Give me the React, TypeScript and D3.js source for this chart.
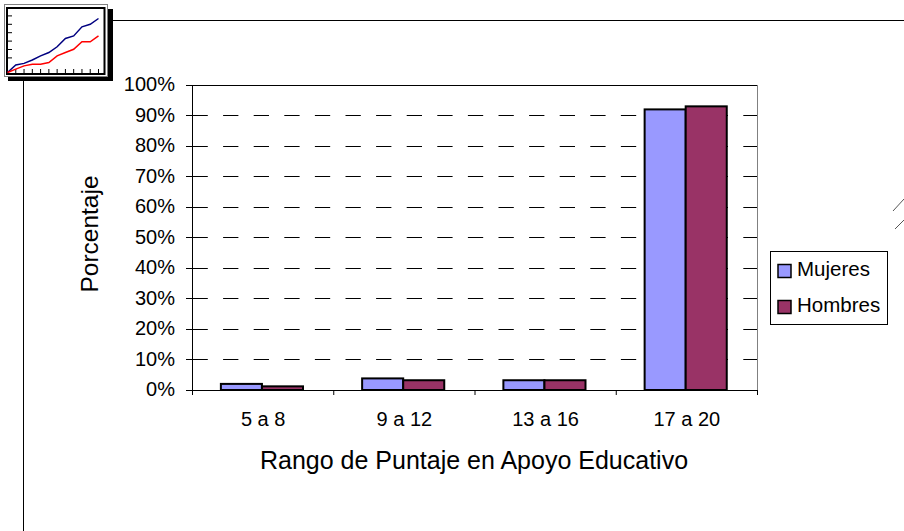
import React from 'react';
import * as d3 from 'd3';

const categories = ['5 a 8', '9 a 12', '13 a 16', '17 a 20'];
const mujeres = [2, 3.8, 3.2, 92];
const hombres = [1.2, 3.2, 3.2, 93];
const yTicks = [0, 10, 20, 30, 40, 50, 60, 70, 80, 90, 100];
const seriesNames = ['Mujeres', 'Hombres'];
const seriesColors = ['#9999ff', '#993366'];
const logoBlue = [0, 9, 11, 15, 20, 24, 31, 41, 44, 55, 58, 65];
const logoRed = [0, 4, 8, 10, 10, 12, 20, 24, 28, 37, 37, 44];

const font = '"Liberation Sans", Arial, sans-serif';

export default function App() {
  const x0 = d3.scaleBand<string>().domain(categories).range([192.5, 757.5]);
  const inner = d3.scaleBand<string>().domain(seriesNames).range([0, x0.bandwidth()]).paddingOuter(0.72).paddingInner(0).align(0.48);
  const y = d3.scaleLinear().domain([0, 100]).range([390, 85]);
  const lx = d3.scaleLinear().domain([0, 11]).range([7.5, 98.5]);
  const ly = d3.scaleLinear().domain([0, 65]).range([72.5, 18.5]);
  const line = d3.line<number>().x((_, i) => lx(i)).y(d => ly(d)).curve(d3.curveLinear);
  const series = [mujeres, hombres];
  const snap = (t: number) => Math.floor(y(t)) + 0.5;
  return (
    <svg width={904} height={531} viewBox="0 0 904 531" style={{ position: 'absolute', left: 0, top: 0, background: '#fff' }} fontFamily={font}>
      {/* page rules */}
      <line x1={110} x2={904} y1={20.5} y2={20.5} stroke="#000" strokeWidth={1} />
      <line x1={23.5} x2={23.5} y1={78} y2={531} stroke="#000" strokeWidth={1} />
      <line x1={893} y1={211} x2={904} y2={199} stroke="#555" strokeWidth={1} />
      <line x1={895} y1={229} x2={904} y2={220} stroke="#555" strokeWidth={1} />

      {/* logo */}
      <rect x={8} y={9} width={105} height={72} fill="#000" />
      <rect x={4.5} y={4.5} width={103} height={72} fill="#fff" stroke="#808080" strokeWidth={1} />
      <rect x={7} y={8} width={97.5} height={66} fill="#fff" stroke="#000" strokeWidth={2} />
      {d3.range(1, 12).map(i => (
        <line key={'lt' + i} x1={lx(i)} x2={lx(i)} y1={69} y2={73} stroke="#000" />
      ))}
      {d3.range(1, 7).map(i => (
        <line key={'lv' + i} x1={8} x2={12} y1={7.5 + i * 8.4} y2={7.5 + i * 8.4} stroke="#000" />
      ))}
      <path d={line(logoBlue) ?? ''} fill="none" stroke="#000080" strokeWidth={1.5} />
      <path d={line(logoRed) ?? ''} fill="none" stroke="#ff0000" strokeWidth={1.5} />

      {/* gridlines */}
      {yTicks.filter(t => t > 0 && t < 100).map(t => (
        <line key={t} x1={192.5} x2={757} y1={snap(t)} y2={snap(t)} stroke="#000" strokeWidth={1} strokeDasharray="15.3 15.3" />
      ))}

      {/* plot frame */}
      <line x1={192.5} x2={757.5} y1={85.5} y2={85.5} stroke="#000" />
      <line x1={757.5} x2={757.5} y1={85} y2={390} stroke="#808080" />
      <line x1={192.5} x2={192.5} y1={85} y2={390} stroke="#000" />

      {/* bars */}
      {categories.map((c, i) =>
        series.map((s, k) => (
          <rect
            key={c + k}
            x={(x0(c) ?? 0) + (inner(seriesNames[k]) ?? 0)}
            y={y(s[i])}
            width={inner.bandwidth()}
            height={y(0) - y(s[i])}
            fill={seriesColors[k]}
            stroke="#000"
            strokeWidth={2}
          />
        ))
      )}

      {/* axes */}
      <line x1={186} x2={758} y1={390.5} y2={390.5} stroke="#000" />
      {yTicks.map(t => (
        <g key={t}>
          <line x1={186} x2={192} y1={snap(t)} y2={snap(t)} stroke="#000" />
          <text x={175} y={y(t) + 6} textAnchor="end" fontSize={20} fill="#000">{t}%</text>
        </g>
      ))}
      {d3.range(0, 5).map(i => {
        const px = 192.5 + i * x0.step();
        return <line key={i} x1={px} x2={px} y1={390} y2={395} stroke="#000" />;
      })}
      {categories.map(c => (
        <text key={c} x={(x0(c) ?? 0) + x0.bandwidth() / 2} y={426} textAnchor="middle" fontSize={20} fill="#000">{c}</text>
      ))}

      <text x={474} y={469} textAnchor="middle" fontSize={25} fill="#000">Rango de Puntaje en Apoyo Educativo</text>
      <text transform="translate(98,234) rotate(-90)" textAnchor="middle" fontSize={24.5} fill="#000">Porcentaje</text>

      {/* legend */}
      <rect x={770.5} y={251.5} width={117} height={73} fill="#fff" stroke="#000" />
      {seriesNames.map((n, k) => (
        <g key={n}>
          <rect x={778} y={264.5 + k * 36} width={13} height={13} fill={seriesColors[k]} stroke="#000" strokeWidth={1.5} />
          <text x={797} y={276 + k * 36} fontSize={20.5} fill="#000">{n}</text>
        </g>
      ))}
    </svg>
  );
}
